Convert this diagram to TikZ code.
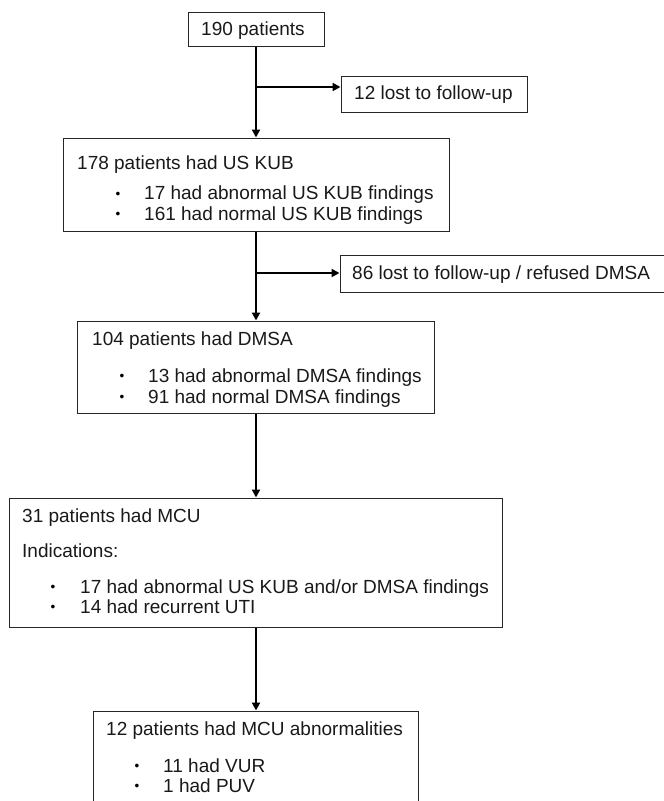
\documentclass[tikz,border=0pt]{standalone}
\usepackage{fontspec}
\setmainfont{Liberation Sans}
\usetikzlibrary{arrows.meta}

\tikzset{
  box/.style={draw=black!85, line width=1pt, rectangle, inner sep=0pt},
  txt/.style={anchor=base west, inner sep=0pt, text=black!90},
  dot/.style={anchor=base, inner sep=0pt, font=\fontsize{13.5}{13.5}\selectfont},
  flow/.style={line width=2.2pt, -{Triangle[length=8pt,width=8pt]}}
}

\begin{document}
\begin{tikzpicture}[x=1pt,y=-1pt,font=\fontsize{19}{23}\selectfont]
    \useasboundingbox (0,0) rectangle (664,801);
    % boxes
    \node[box, minimum width=136pt, minimum height=34pt] (start) at (256,29) {};
    \node[box, minimum width=186pt, minimum height=36pt] (lostA) at (434,94) {};
    \node[box, minimum width=386pt, minimum height=93pt] (kub) at (256,184.5) {};
    \node[box, minimum width=328pt, minimum height=37pt] (lostB) at (504,273.5) {};
    \node[box, minimum width=357pt, minimum height=92pt] (dmsa) at (256,367) {};
    \node[box, minimum width=493pt, minimum height=129pt] (mcu) at (256,562.5) {};
    \node[box, minimum width=325pt, minimum height=104pt] (abn) at (256,763) {};
    % texts
    \node[txt] at (201,35) {190 patients};
    \node[txt] at (354,99) {12 lost to follow-up};
    \node[txt] at (77,169) {178 patients had US KUB};
    \node[dot] at (118,198) {•};
    \node[txt] at (144,199.5) {17 had abnormal US KUB findings};
    \node[dot] at (118,218.5) {•};
    \node[txt] at (144,220) {161 had normal US KUB findings};
    \node[txt] at (352,279) {86 lost to follow-up / refused DMSA};
    \node[txt] at (92,345) {104 patients had DMSA};
    \node[dot] at (122,380.5) {•};
    \node[txt] at (148,382) {13 had abnormal DMSA findings};
    \node[dot] at (122,401.5) {•};
    \node[txt] at (148,403) {91 had normal DMSA findings};
    \node[txt] at (22,522) {31 patients had MCU};
    \node[txt] at (22,557) {Indications:};
    \node[dot] at (53,591.5) {•};
    \node[txt] at (80,593) {17 had abnormal US KUB and/or DMSA findings};
    \node[dot] at (53,611.5) {•};
    \node[txt] at (80,613) {14 had recurrent UTI};
    \node[txt] at (106,735) {12 patients had MCU abnormalities};
    \node[dot] at (137,770.5) {•};
    \node[txt] at (163,772) {11 had VUR};
    \node[dot] at (137,790.5) {•};
    \node[txt] at (163,792) {1 had PUV};
    % arrows
    \coordinate (j1) at (256,87);
    \coordinate (j2) at (256,273);
    \draw[flow] (start) -- (kub);
    \draw[flow] (j1) -- (j1 -| lostA.west);
    \draw[flow] (kub) -- (dmsa);
    \draw[flow] (j2) -- (j2 -| lostB.west);
    \draw[flow] (dmsa) -- (mcu);
    \draw[flow] (mcu) -- (abn);
\end{tikzpicture}
\end{document}
